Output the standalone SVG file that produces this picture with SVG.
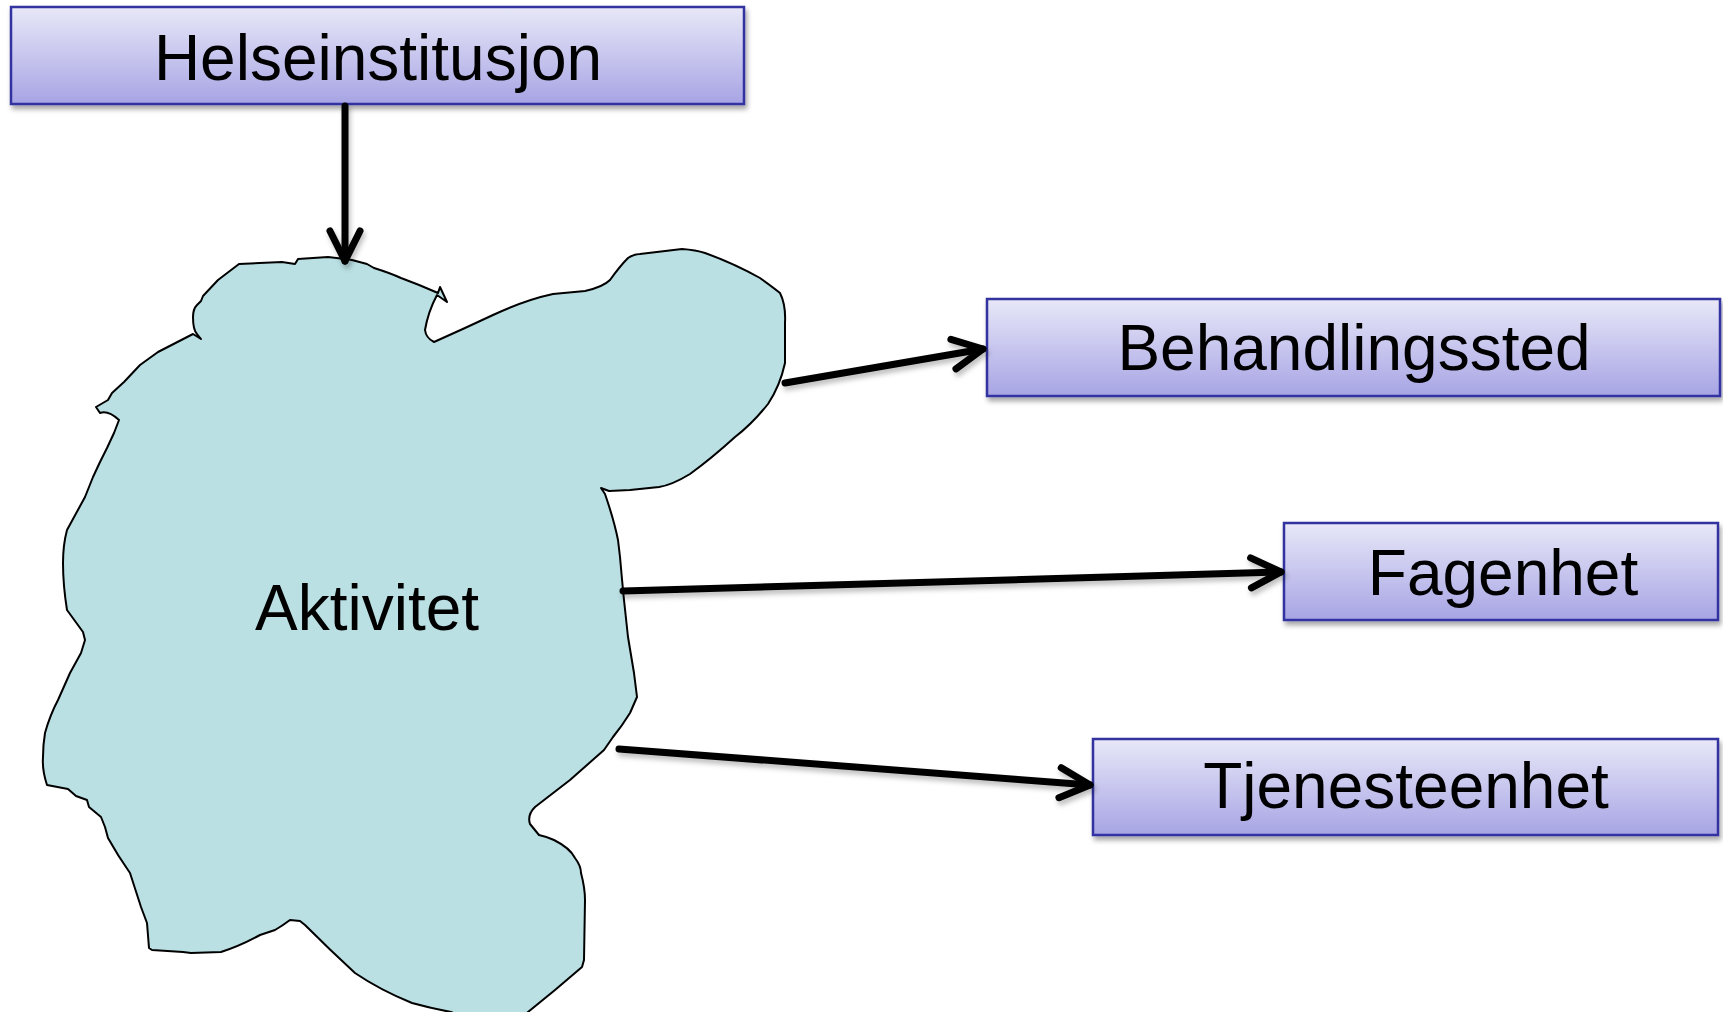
<svg xmlns="http://www.w3.org/2000/svg" width="1723" height="1012" viewBox="0 0 1723 1012">
<style>
.box{fill:url(#boxGrad);stroke:#3333a0;stroke-width:2.5;filter:url(#shadow)}
.lbl{font-family:"Liberation Sans",Arial,sans-serif;font-size:64px;fill:#000;text-anchor:middle}
.conn{fill:none;stroke:#000;stroke-width:7;stroke-linecap:round;marker-end:url(#chev)}
.blob{fill:#bae0e3;stroke:#000;stroke-width:2;stroke-linejoin:round}
</style>
<defs>
<linearGradient id="boxGrad" x1="0" y1="0" x2="0" y2="1">
<stop offset="0" stop-color="#e8e8f8"/>
<stop offset="1" stop-color="#a7a4e4"/>
</linearGradient>
<filter id="shadow" x="-5%" y="-20%" width="110%" height="150%">
<feDropShadow dx="2" dy="4" stdDeviation="2.5" flood-color="#000" flood-opacity="0.35"/>
</filter>
<filter id="ashadow" filterUnits="userSpaceOnUse" x="0" y="0" width="1723" height="1012">
<feDropShadow dx="2" dy="4" stdDeviation="2.5" flood-color="#000" flood-opacity="0.25"/>
</filter>
<marker id="chev" markerUnits="userSpaceOnUse" viewBox="-40 -22 46 44" markerWidth="46" markerHeight="44" refX="0" refY="0" orient="auto" overflow="visible">
<path d="M -30 -15 L 0 0 L -30 15" fill="none" stroke="#000" stroke-width="7" stroke-linecap="round" stroke-linejoin="round"/>
</marker>
</defs>
<rect width="1723" height="1012" fill="#fff"/>

<g id="aktivitet">
<path class="blob" d="M 239 264 L 282 262 L 295 264 L 298 259 L 328 257 L 345 259 L 352 260 L 367 264 L 374 268 Q 390 273 401 278 Q 420 285 438 293 L 440 287 L 447 302 L 437 295 Q 428 312 425 330 Q 426 338 434 342 L 465 328 L 493 315 Q 525 300 553 294 L 585 291 Q 603 287 610 280 Q 620 266 628 258 Q 634 254 640 254 L 682 249 Q 696 250 705 253 Q 733 263 760 278 Q 774 288 780 293 Q 786 305 785 323 L 785 363 Q 780 386 768 404 Q 752 424 735 437 Q 712 458 690 474 Q 672 485 659 487 L 630 490 L 609 491 L 601 488 L 605 494 Q 614 520 618 540 L 620 557 Q 622 580 624 600 L 628 637 L 634 673 L 637 697 L 630 713 Q 622 726 613 737 L 604 750 L 570 780 L 535 807 Q 527 815 530 824 L 539 835 Q 548 837 554 840 Q 570 848 575 858 Q 581 866 581 873 Q 585 888 585 900 L 584 960 L 582 967 L 555 990 L 528 1012 L 510 1030 L 480 1030 Q 465 1018 451 1012 Q 430 1008 412 1003 Q 380 990 355 973 Q 330 950 305 925 L 300 921 L 290 920 Q 282 926 275 930 L 260 935 Q 240 946 221 952 L 191 953 L 183 952 L 152 950 L 149 948 L 147 923 L 141 907 L 130 873 Q 118 856 108 838 L 105 827 L 101 817 L 89 807 L 87 800 L 76 796 L 68 789 L 47 785 Q 42 770 43 757 Q 43 745 45 733 Q 50 715 58 700 L 70 673 L 81 653 L 85 640 L 83 632 L 67 610 Q 63 585 63 563 Q 63 545 67 530 L 85 497 L 93 477 L 100 462 L 107 448 L 114 433 L 119 420 Q 108 410 100 413 L 96 407 L 108 400 L 112 393 L 124 382 L 140 365 L 158 352 L 193 334 L 201 339 L 197 334 Q 193 330 193 317 Q 193 309 197 305 L 201 301 L 203 296 L 218 280 Z"/>
<text class="lbl" x="367" y="630">Aktivitet</text>
</g>

<g id="helseinstitusjon">
<rect class="box" x="11" y="7" width="733" height="97"/>
<text class="lbl" x="378" y="80">Helseinstitusjon</text>
</g>

<g id="behandlingssted">
<rect class="box" x="987" y="299" width="733" height="97"/>
<text class="lbl" x="1354" y="370">Behandlingssted</text>
</g>

<g id="fagenhet">
<rect class="box" x="1284" y="523" width="434" height="97"/>
<text class="lbl" x="1503" y="595">Fagenhet</text>
</g>

<g id="tjenesteenhet">
<rect class="box" x="1093" y="739" width="625" height="96"/>
<text class="lbl" x="1406" y="808">Tjenesteenhet</text>
</g>

<g id="connectors" filter="url(#ashadow)">
<path class="conn" d="M 345 106 L 345 261"/>
<path class="conn" d="M 785 383 L 983 349"/>
<path class="conn" d="M 623 591 L 1281 572"/>
<path class="conn" d="M 619 749 L 1090 785"/>
</g>
</svg>
